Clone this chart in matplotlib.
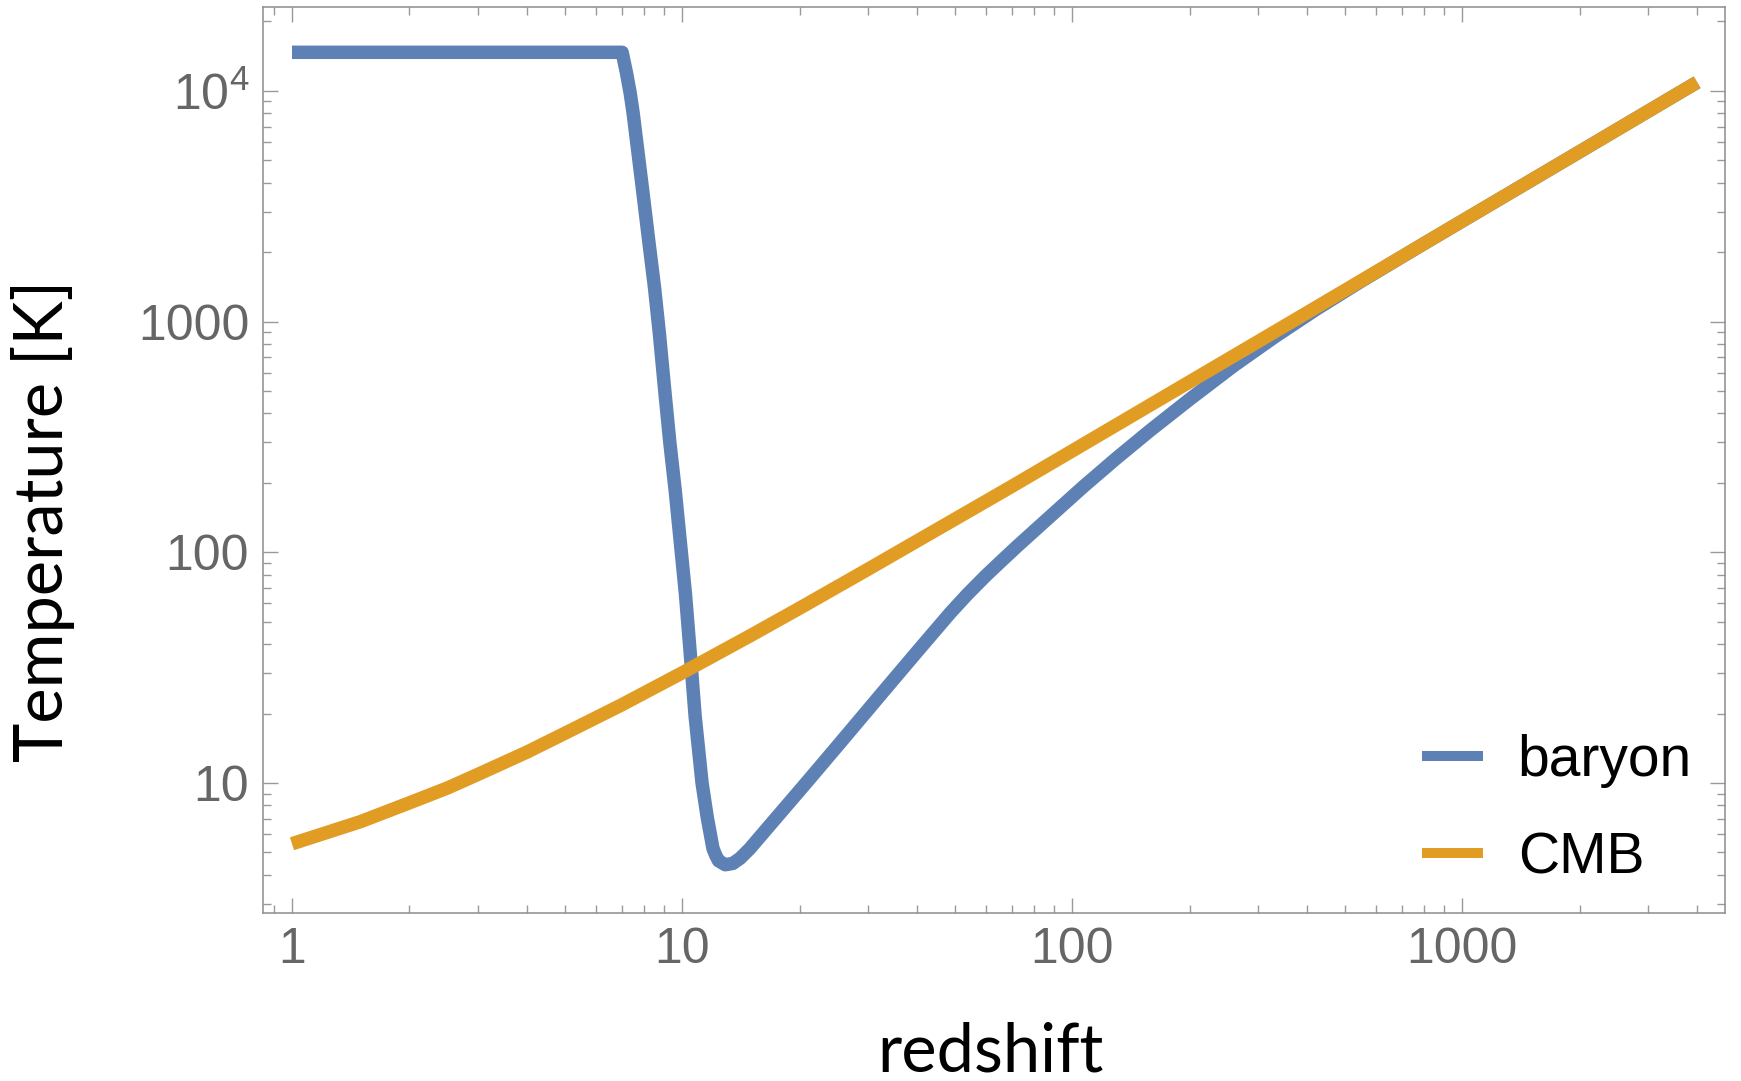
#Librerias
import matplotlib
matplotlib.use("Agg")
import matplotlib.pyplot as plt
from matplotlib.ticker import NullFormatter, LogLocator

plt.rcParams['mathtext.fontset'] = 'custom'
plt.rcParams['mathtext.rm'] = 'Liberation Sans'

#Datos (redshift, temperatura en K)
z_baryon = [1, 2, 4, 7.02, 7.2, 7.36, 7.49, 7.94, 8.2, 8.5, 8.75, 9.0, 9.3,
            9.6, 9.9, 10.2, 10.5, 10.8, 11.25, 11.6, 12.0, 12.2, 12.4, 12.9,
            13.5, 14.1, 14.9, 17.1, 20.9, 25.4, 32.8, 40, 48.7, 54, 60, 66,
            72.2, 85, 107, 130, 158, 200, 260, 330, 420, 550, 800, 1000,
            2000, 4000]
T_baryon = [14700, 14700, 14700, 14700, 12000, 9800, 8030, 3600, 2290, 1400,
            880, 530, 300, 186, 110, 66, 36, 19.5, 10, 7.1, 5.2, 4.85, 4.6,
            4.42, 4.48, 4.72, 5.18, 6.8, 10.1, 14.9, 24.9, 37, 54.6, 66, 79,
            92, 106, 136, 193, 256, 336, 460, 645, 857, 1124, 1494, 2183,
            2728, 5450, 10900]

z_cmb = [1, 1.5, 2, 2.5, 3, 4, 5, 7, 10, 15, 20, 30, 50, 70, 100, 200, 300,
         500, 1000, 2000, 4000]
T_cmb = [5.45, 6.8, 8.2, 9.5, 10.9, 13.6, 16.4, 21.8, 30, 43.6, 57.2, 84.5,
         139, 193, 275, 548, 820, 1365, 2730, 5450, 10900]

etiquetas = ["baryon", "CMB"]
yticks = [10, 100, 1000, 10000]
ytick_labels = ["10", "100", "1000", r"$\mathregular{10^4}$"]
xticks = [1, 10, 100, 1000]
xtick_labels = ["1", "10", "100", "1000"]

azul = "#5E81B5"
naranja = "#E19C24"
gris = "#666666"

#Figura
fig = plt.figure(figsize=(17.41, 10.81), dpi=100)
ax = fig.add_axes([0.1511, 0.1554, 0.8398, 0.8381])

ax.plot(z_baryon, T_baryon, color=azul, lw=9.7, label=etiquetas[0],
        solid_joinstyle='round', solid_capstyle='butt')
ax.plot(z_cmb, T_cmb, color=naranja, lw=9.7, label=etiquetas[1],
        solid_joinstyle='round', solid_capstyle='butt')

ax.set_xscale('log')
ax.set_yscale('log')
ax.set_xlim(0.843, 4720)
ax.set_ylim(2.73, 23100)

ax.set_xticks(xticks, labels=xtick_labels)
ax.set_yticks(yticks, labels=ytick_labels)
ax.xaxis.set_minor_locator(LogLocator(base=10, subs=range(2, 10)))
ax.yaxis.set_minor_locator(LogLocator(base=10, subs=range(2, 10)))
ax.xaxis.set_minor_formatter(NullFormatter())
ax.yaxis.set_minor_formatter(NullFormatter())

ax.tick_params(which='both', direction='in', top=True, right=True,
               color='#999999', width=1.0)
ax.tick_params(which='major', length=10.8, labelsize=36, labelcolor=gris,
               pad=10)
ax.tick_params(which='minor', length=5.8)
for lab in ax.get_xticklabels() + ax.get_yticklabels():
    lab.set_fontfamily('Liberation Sans')

for s in ax.spines.values():
    s.set_color('#8c8c8c')
    s.set_linewidth(1.1)

#Titulos de los ejes
fig.text(990 / 1741, 1 - 1072 / 1081, "redshift", fontsize=48,
         family='Lato', ha='center', va='baseline')
fig.text(63 / 1741, 1 - 521 / 1081, "Temperature [K]", fontsize=48,
         family='Lato', rotation=90, rotation_mode='anchor',
         ha='center', va='baseline')

#Leyenda
leg = ax.legend(loc='upper left', bbox_to_anchor=(1422 / 1741, 1 - 734 / 1081),
                bbox_transform=fig.transFigure, frameon=False, borderpad=0,
                borderaxespad=0, handlelength=1.07, handletextpad=0.61,
                labelspacing=0.76, prop={'family': 'Liberation Sans', 'size': 41})
for h in leg.legend_handles:
    h.set_linewidth(7.2)

fig.savefig("out.png", dpi=100)
